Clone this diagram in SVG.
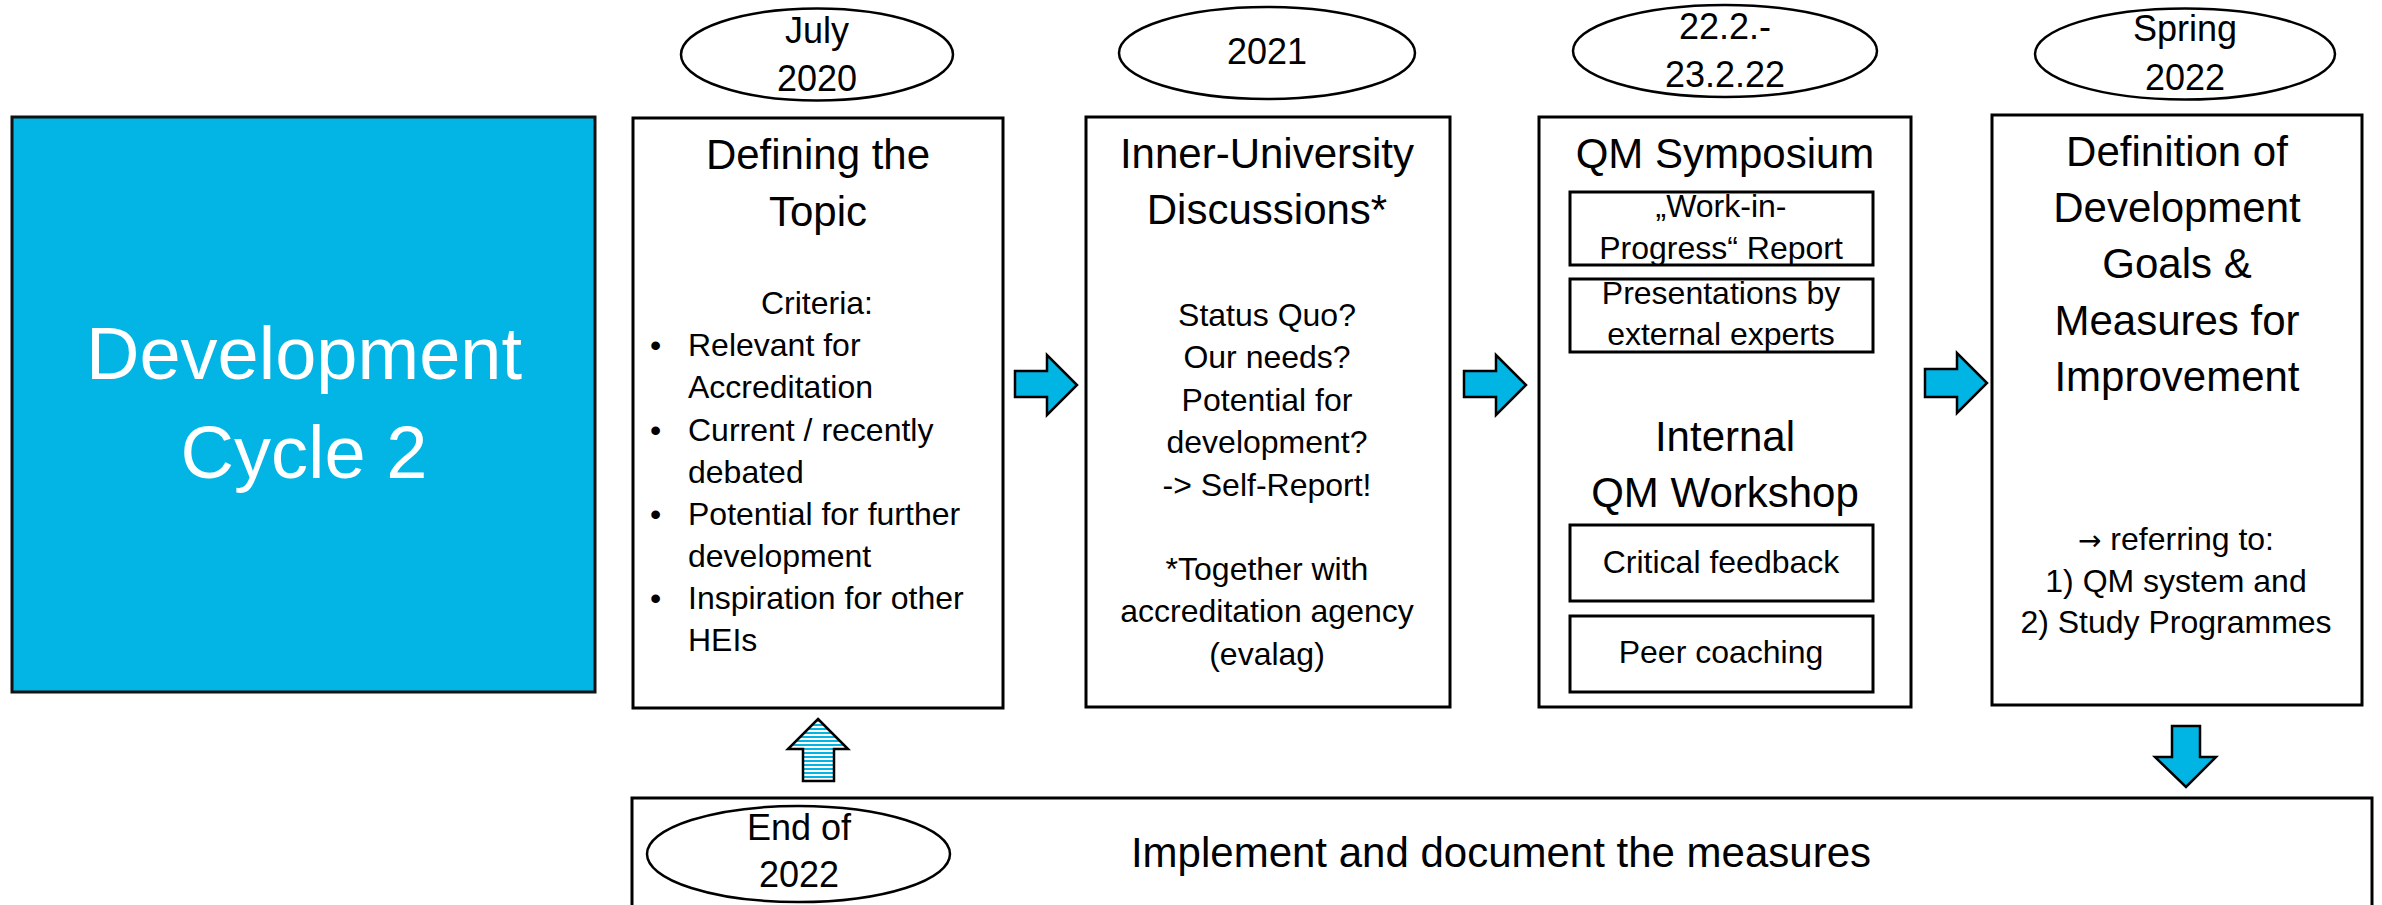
<svg xmlns="http://www.w3.org/2000/svg" width="2382" height="905" viewBox="0 0 2382 905">
<style>
text{font-family:"Liberation Sans",Arial,sans-serif;fill:#000}
.box{fill:#fff;stroke:#000;stroke-width:3}
.ell{fill:#fff;stroke:#000;stroke-width:2.5}
.arr{fill:#00B4E4;stroke:#000;stroke-width:2.5;stroke-linejoin:miter}
.d{font-size:36px;text-anchor:middle}
.h{font-size:42px;text-anchor:middle}
.b{font-size:32px}
.c{font-size:32px;text-anchor:middle}
.sym{font-family:"DejaVu Sans",sans-serif}
</style>
<defs>
<pattern id="stripes" patternUnits="userSpaceOnUse" width="8" height="4">
<rect width="8" height="4" fill="#fff"/>
<rect width="8" height="2" fill="#00B4E4"/>
</pattern>
</defs>

<g id="cycle">
<rect x="12" y="117" width="583" height="575" fill="#02B5E5" stroke="#111" stroke-width="3"/>
<text x="304" y="379" font-size="74" text-anchor="middle" style="fill:#fff">Development</text>
<text x="304" y="478" font-size="74" text-anchor="middle" style="fill:#fff">Cycle 2</text>
</g>

<g id="date1">
<ellipse class="ell" cx="817" cy="54.5" rx="136" ry="46"/>
<text class="d" x="817" y="43">July</text>
<text class="d" x="817" y="91">2020</text>
</g>

<g id="step1">
<rect class="box" x="633" y="118" width="370" height="590"/>
<text class="h" x="818" y="169">Defining the</text>
<text class="h" x="818" y="226">Topic</text>
<text class="c" x="817" y="314">Criteria:</text>
<text class="b" x="650" y="356">•</text>
<text class="b" x="688" y="356">Relevant for</text>
<text class="b" x="688" y="398">Accreditation</text>
<text class="b" x="650" y="441">•</text>
<text class="b" x="688" y="441">Current / recently</text>
<text class="b" x="688" y="483">debated</text>
<text class="b" x="650" y="525">•</text>
<text class="b" x="688" y="525">Potential for further</text>
<text class="b" x="688" y="567">development</text>
<text class="b" x="650" y="609">•</text>
<text class="b" x="688" y="609">Inspiration for other</text>
<text class="b" x="688" y="651">HEIs</text>
</g>

<g id="date2">
<ellipse class="ell" cx="1267" cy="53" rx="148" ry="46"/>
<text class="d" x="1267" y="64">2021</text>
</g>

<g id="step2">
<rect class="box" x="1086" y="117" width="364" height="590"/>
<text class="h" x="1267" y="168">Inner-University</text>
<text class="h" x="1267" y="224">Discussions*</text>
<text class="c" x="1267" y="326">Status Quo?</text>
<text class="c" x="1267" y="368">Our needs?</text>
<text class="c" x="1267" y="411">Potential for</text>
<text class="c" x="1267" y="453">development?</text>
<text class="c" x="1267" y="496">-&gt; Self-Report!</text>
<text class="c" x="1267" y="580">*Together with</text>
<text class="c" x="1267" y="622">accreditation agency</text>
<text class="c" x="1267" y="665">(evalag)</text>
</g>

<g id="date3">
<ellipse class="ell" cx="1725" cy="51" rx="152" ry="46"/>
<text class="d" x="1725" y="39">22.2.-</text>
<text class="d" x="1725" y="87">23.2.22</text>
</g>

<g id="step3">
<rect class="box" x="1539" y="117" width="372" height="590"/>
<text class="h" x="1725" y="168">QM Symposium</text>
<rect class="box" x="1570" y="192" width="303" height="73"/>
<text class="c" x="1721" y="217">„Work-in-</text>
<text class="c" x="1721" y="259">Progress“ Report</text>
<rect class="box" x="1570" y="279" width="303" height="73"/>
<text class="c" x="1721" y="304">Presentations by</text>
<text class="c" x="1721" y="345">external experts</text>
<text class="h" x="1725" y="451">Internal</text>
<text class="h" x="1725" y="507">QM Workshop</text>
<rect class="box" x="1570" y="525" width="303" height="76"/>
<text class="c" x="1721" y="573">Critical feedback</text>
<rect class="box" x="1570" y="616" width="303" height="76"/>
<text class="c" x="1721" y="663">Peer coaching</text>
</g>

<g id="date4">
<ellipse class="ell" cx="2185" cy="54" rx="150" ry="45.5"/>
<text class="d" x="2185" y="41">Spring</text>
<text class="d" x="2185" y="90">2022</text>
</g>

<g id="step4">
<rect class="box" x="1992" y="115" width="370" height="590"/>
<text class="h" x="2177" y="166">Definition of</text>
<text class="h" x="2177" y="222">Development</text>
<text class="h" x="2177" y="278">Goals &amp;</text>
<text class="h" x="2177" y="335">Measures for</text>
<text class="h" x="2177" y="391">Improvement</text>
<text class="c" x="2176" y="550"><tspan class="sym" font-size="28">→</tspan> referring to:</text>
<text class="c" x="2176" y="592">1) QM system and</text>
<text class="c" x="2176" y="633">2) Study Programmes</text>
</g>

<g id="step5">
<rect class="box" x="632" y="798" width="1740" height="130"/>
<ellipse class="ell" cx="798.5" cy="854" rx="151.5" ry="48"/>
<text class="d" x="799" y="840">End of</text>
<text class="d" x="799" y="887">2022</text>
<text class="h" x="1501" y="867">Implement and document the measures</text>
</g>

<g id="connectors">
<polygon class="arr" points="1015,371 1047,371 1047,355 1077,385 1047,415 1047,397 1015,397"/>
<polygon class="arr" points="1464,371 1496,371 1496,355 1526,385 1496,415 1496,397 1464,397"/>
<polygon class="arr" points="1925,369 1957,369 1957,353 1987,383 1957,413 1957,397 1925,397"/>
<polygon class="arr" points="2172,726 2200,726 2200,757 2216,757 2186,787 2155,757 2172,757"/>
<polygon points="818,719 848,749 834,749 834,781 803,781 803,749 788,749" fill="url(#stripes)" stroke="#000" stroke-width="2.5"/>
</g>
</svg>
